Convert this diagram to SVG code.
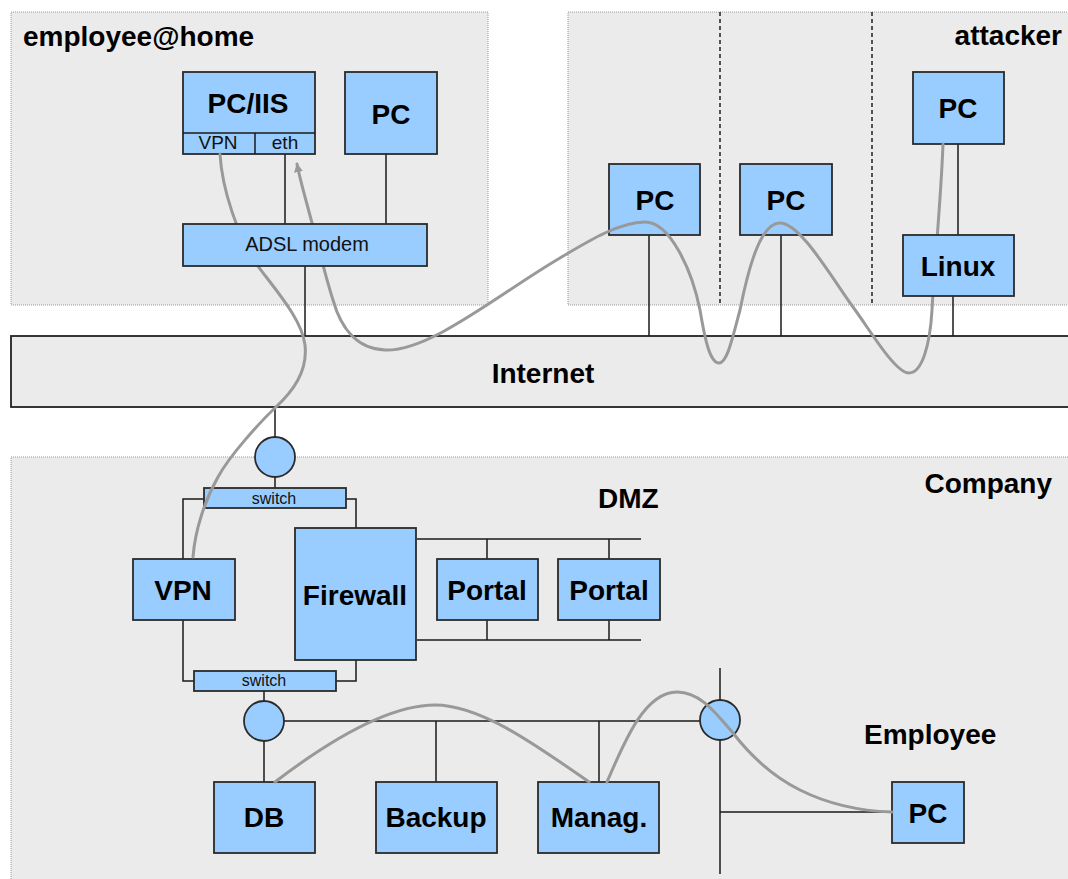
<svg xmlns="http://www.w3.org/2000/svg" width="1068" height="879" viewBox="0 0 1068 879">
  <style>
    .zone { fill: #ebebeb; stroke: #9a9a9a; stroke-width: 1; stroke-dasharray: 1 1; }
    .band { fill: #ebebeb; stroke: #222; stroke-width: 1.8; }
    .node { fill: #99ccff; stroke: #2b2b2b; stroke-width: 1.8; }
    .wire { fill: none; stroke: #1a1a1a; stroke-width: 1.5; }
    .divider { stroke: #111; stroke-width: 1.4; stroke-dasharray: 4 3; }
    .flow { fill: none; stroke: #999999; stroke-width: 3; stroke-linecap: round; }
    .title { font-family: "Liberation Sans", Arial, sans-serif; font-size: 28px; font-weight: bold; fill: #000; }
    .label { font-family: "Liberation Sans", Arial, sans-serif; font-size: 28px; font-weight: bold; fill: #000; text-anchor: middle; }
    .small { font-family: "Liberation Sans", Arial, sans-serif; font-size: 19px; fill: #111; text-anchor: middle; }
    .tiny { font-family: "Liberation Sans", Arial, sans-serif; font-size: 16px; fill: #111; text-anchor: middle; }
  </style>
  <defs>
    <marker id="arrow" viewBox="0 0 10 10" refX="9" refY="5" markerWidth="9" markerHeight="9" markerUnits="userSpaceOnUse" orient="auto">
      <path d="M0,0 L10,5 L0,10 z" fill="#999999"/>
    </marker>
  </defs>

  <rect width="1068" height="879" fill="#ffffff"/>

  <!-- zones -->
  <g id="zone-home">
    <rect class="zone" x="11" y="12" width="477" height="293"/>
    <text class="title" x="23" y="46">employee@home</text>
  </g>
  <g id="zone-attacker">
    <rect class="zone" x="568" y="12" width="520" height="293"/>
    <line class="divider" x1="720" y1="12" x2="720" y2="305"/>
    <line class="divider" x1="872" y1="12" x2="872" y2="305"/>
    <text class="title" x="1062" y="45" text-anchor="end">attacker</text>
  </g>
  <g id="internet">
    <rect class="band" x="11" y="336" width="1080" height="71"/>
    <text class="label" x="543" y="383">Internet</text>
  </g>
  <g id="zone-company">
    <rect class="zone" x="11" y="457" width="1080" height="440"/>
    <text class="title" x="1052" y="493" text-anchor="end">Company</text>
    <text class="title" x="598" y="508">DMZ</text>
    <text class="title" x="864" y="744">Employee</text>
  </g>

  <!-- network wiring -->
  <g id="links">
    <line class="wire" x1="285" y1="154" x2="285" y2="224"/>
    <line class="wire" x1="386" y1="154" x2="386" y2="224"/>
    <line class="wire" x1="305" y1="266" x2="305" y2="336"/>
    <line class="wire" x1="649" y1="235" x2="649" y2="336"/>
    <line class="wire" x1="781" y1="235" x2="781" y2="336"/>
    <line class="wire" x1="958" y1="144" x2="958" y2="235"/>
    <line class="wire" x1="953" y1="296" x2="953" y2="336"/>
    <line class="wire" x1="275" y1="407" x2="275" y2="437"/>
    <line class="wire" x1="275" y1="477" x2="275" y2="488"/>
    <polyline class="wire" points="204,499 183,499 183,559"/>
    <polyline class="wire" points="346,499 356,499 356,528"/>
    <line class="wire" x1="417" y1="539" x2="641" y2="539"/>
    <line class="wire" x1="487" y1="539" x2="487" y2="559"/>
    <line class="wire" x1="609" y1="539" x2="609" y2="559"/>
    <line class="wire" x1="417" y1="640" x2="641" y2="640"/>
    <line class="wire" x1="487" y1="620" x2="487" y2="640"/>
    <line class="wire" x1="609" y1="620" x2="609" y2="640"/>
    <polyline class="wire" points="183,620 183,681 194,681"/>
    <polyline class="wire" points="356,660 356,681 336,681"/>
    <line class="wire" x1="264" y1="691" x2="264" y2="701"/>
    <line class="wire" x1="264" y1="741" x2="264" y2="782"/>
    <line class="wire" x1="284" y1="721" x2="700" y2="721"/>
    <line class="wire" x1="436" y1="721" x2="436" y2="782"/>
    <line class="wire" x1="599" y1="721" x2="599" y2="782"/>
    <line class="wire" x1="720" y1="668" x2="720" y2="874"/>
    <line class="wire" x1="720" y1="812" x2="892" y2="812"/>
  </g>

  <!-- home devices -->
  <g id="pc-iis">
    <rect class="node" x="183" y="72" width="132" height="82"/>
    <line class="wire" x1="183" y1="133" x2="315" y2="133"/>
    <line class="wire" x1="255" y1="133" x2="255" y2="154"/>
    <text class="label" x="248" y="113">PC/IIS</text>
    <text class="small" x="218" y="149">VPN</text>
    <text class="small" x="285" y="149">eth</text>
  </g>
  <g id="pc-home">
    <rect class="node" x="345" y="72" width="92" height="82"/>
    <text class="label" x="391" y="124">PC</text>
  </g>

  <!-- attacker hops -->
  <g id="pc-hop1">
    <rect class="node" x="609" y="164" width="91" height="71"/>
    <text class="label" x="655" y="210">PC</text>
  </g>
  <g id="pc-hop2">
    <rect class="node" x="740" y="164" width="92" height="71"/>
    <text class="label" x="786" y="210">PC</text>
  </g>
  <g id="pc-attacker">
    <rect class="node" x="913" y="72" width="91" height="72"/>
    <text class="label" x="958" y="118">PC</text>
  </g>

  <!-- company network -->
  <g id="router-edge">
    <circle class="node" cx="275" cy="457" r="20"/>
  </g>
  <g id="switch-outer">
    <rect class="node" x="204" y="488" width="142" height="20"/>
    <text class="tiny" x="274" y="504">switch</text>
  </g>
  <g id="vpn">
    <rect class="node" x="133" y="559" width="102" height="61"/>
    <text class="label" x="183" y="600">VPN</text>
  </g>
  <g id="firewall">
    <rect class="node" x="295" y="528" width="121" height="132"/>
    <text class="label" x="355" y="605">Firewall</text>
  </g>
  <g id="portal-1">
    <rect class="node" x="437" y="559" width="101" height="61"/>
    <text class="label" x="487" y="600">Portal</text>
  </g>
  <g id="portal-2">
    <rect class="node" x="558" y="559" width="102" height="61"/>
    <text class="label" x="609" y="600">Portal</text>
  </g>
  <g id="switch-inner">
    <rect class="node" x="194" y="671" width="142" height="20"/>
    <text class="tiny" x="264" y="686">switch</text>
  </g>
  <g id="router-lan">
    <circle class="node" cx="264" cy="721" r="20"/>
  </g>
  <g id="router-office">
    <circle class="node" cx="720" cy="720" r="20"/>
  </g>
  <g id="db">
    <rect class="node" x="214" y="782" width="101" height="71"/>
    <text class="label" x="264" y="827">DB</text>
  </g>
  <g id="backup">
    <rect class="node" x="376" y="782" width="121" height="71"/>
    <text class="label" x="436" y="827">Backup</text>
  </g>
  <g id="manag">
    <rect class="node" x="538" y="782" width="121" height="71"/>
    <text class="label" x="599" y="827">Manag.</text>
  </g>
  <g id="pc-employee">
    <rect class="node" x="892" y="782" width="72" height="61"/>
    <text class="label" x="928" y="823">PC</text>
  </g>

  <!-- traffic paths -->
  <g id="flows">
    <path class="flow" d="M220,154 C222,190 238,235 255,262 C272,286 302,318 305,345 C308,372 292,392 276,407 C260,422 230,455 218,477 C205,500 195,530 193,557"/>
    <path class="flow" marker-end="url(#arrow)" d="M943,144 C941,200 934,270 932,310 C930,345 922,373 909,373 C895,373 870,330 853,307 C830,275 800,223 780,223 C760,223 748,270 740,310 C732,340 727,363 719,363 C710,363 705,340 700,310 C692,270 670,222 645,222 C620,222 590,240 560,258 C500,293 430,352 385,350 C355,349 340,325 333,300 C325,275 318,245 312,223 C306,200 300,180 297,164"/>
    <path class="flow" d="M275,782 C330,740 390,705 435,705 C482,705 540,748 589,782"/>
    <path class="flow" d="M607,782 C625,740 645,692 677,692 C700,692 715,712 733,733 C750,755 770,775 800,790 C830,805 860,811 892,812"/>
  </g>

  <!-- devices that sit over the traffic paths -->
  <g id="adsl-modem">
    <rect class="node" x="183" y="224" width="244" height="42"/>
    <text class="small" x="307" y="251" style="font-size:20px">ADSL modem</text>
  </g>
  <g id="linux">
    <rect class="node" x="903" y="235" width="111" height="61"/>
    <text class="label" x="958" y="276">Linux</text>
  </g>
</svg>
